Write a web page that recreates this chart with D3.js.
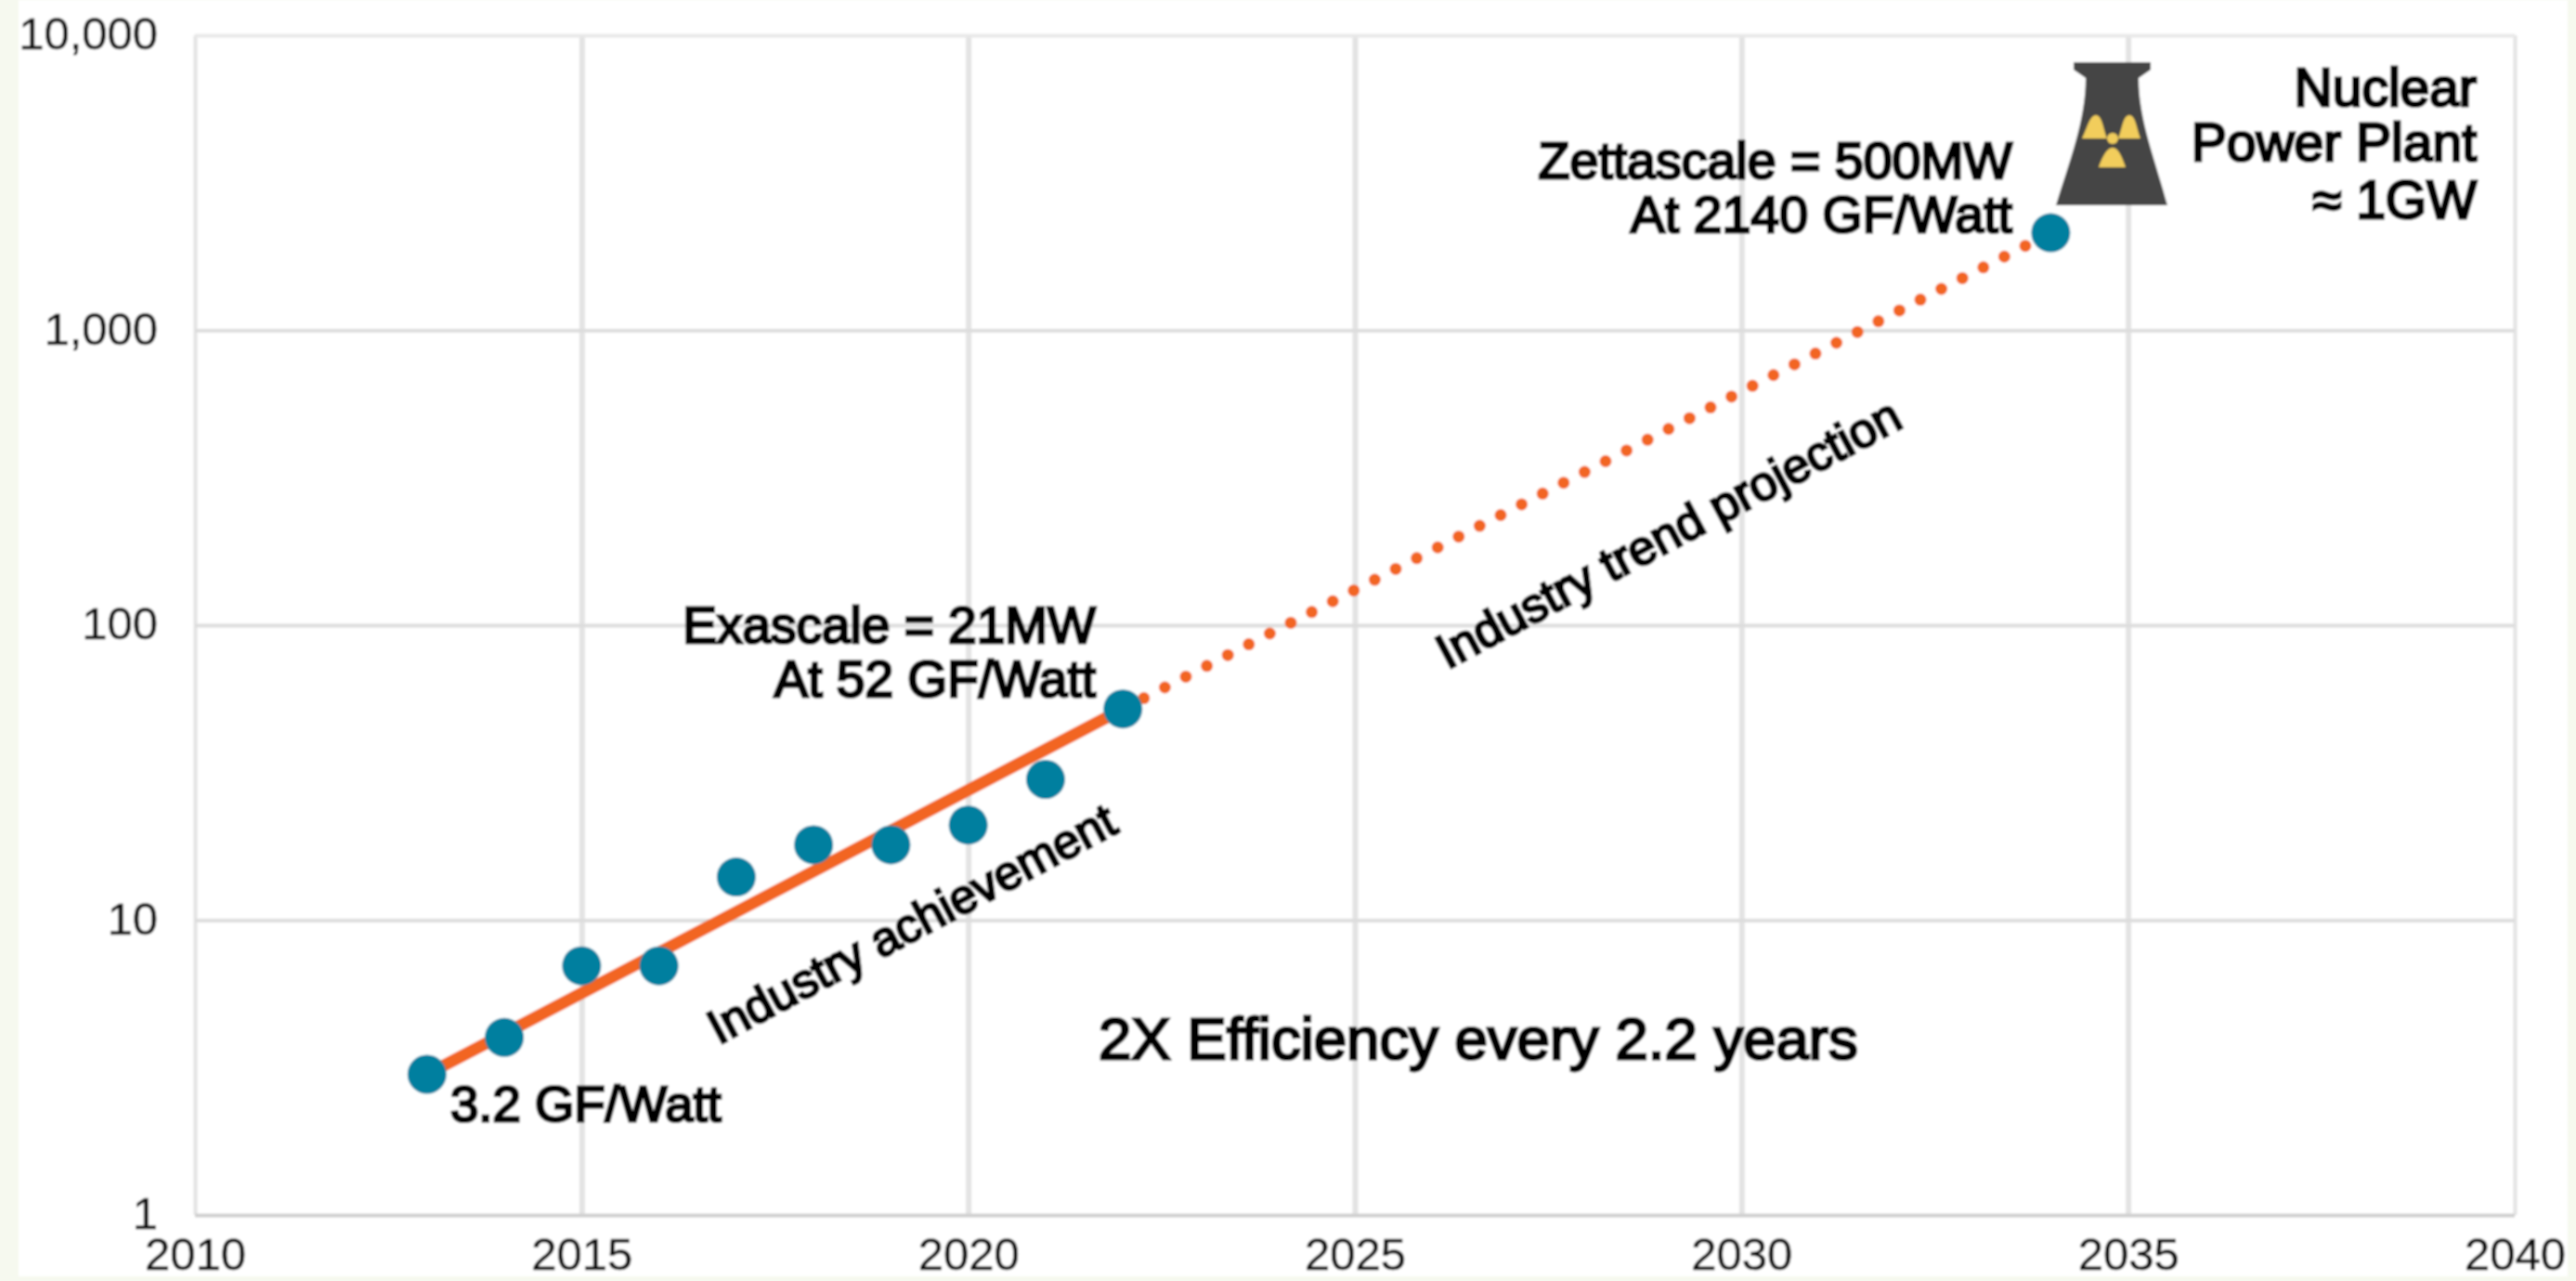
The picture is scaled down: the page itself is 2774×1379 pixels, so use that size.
<!DOCTYPE html>
<html><head><meta charset="utf-8">
<script src="https://cdn.jsdelivr.net/npm/d3@7"></script>
<style>
html,body{margin:0;padding:0;background:#f6f9ef;overflow:hidden}
svg{display:block}
text{font-family:"Liberation Sans",Arial,sans-serif}
</style></head><body>
<svg id="c" width="2774" height="1379"></svg>
<script>
const years=[2013,2014,2015,2016,2017,2018,2019,2020,2021,2022,2034];
const efficiency=[3,4,7,7,14,18,18,21,30,52,2140];
const achievedYears=[2013,2022];
const achievedValues=[3,52];
const projectedYears=[2022,2034];
const projectedValues=[52,2140];
const xTicks=[2010,2015,2020,2025,2030,2035,2040];
const yTicks=[1,10,100,1000,10000];

const svg=d3.select("#c");
svg.append("defs").append("filter").attr("id","soft")
  .attr("x",0).attr("y",0).attr("width","100%").attr("height","100%")
  .attr("filterUnits","userSpaceOnUse")
  .append("feGaussianBlur").attr("stdDeviation",1);
const root=svg.append("g").attr("filter","url(#soft)");
root.append("rect").attr("x",20).attr("y",0).attr("width",2745).attr("height",1374).attr("fill","#fff");

const L=210,R=2708,T=38,B=1308;
const x=d3.scaleLinear().domain([2010,2040]).range([L,R]);
const y=d3.scaleLog().domain([1,10000]).range([B,T]);
const GRID="#e3e3e3";

// axes with gridlines
const gx=root.append("g").attr("transform",`translate(0,${B})`)
  .call(d3.axisBottom(x).tickValues(xTicks).tickFormat(d3.format("d")).tickSize(-(B-T)));
const gy=root.append("g").attr("transform",`translate(${L},0)`)
  .call(d3.axisLeft(y).tickValues(yTicks).tickFormat(d3.format(",")).tickSize(B-T));
gy.selectAll(".tick line").attr("x1",0).attr("x2",R-L);
[gx,gy].forEach(g=>{
  g.select(".domain").remove();
  g.selectAll(".tick line").attr("stroke",GRID).attr("stroke-width",4);
  g.selectAll("text").attr("fill","#111").attr("stroke","#111").attr("stroke-width",0.5).attr("font-size",49);
});
gx.selectAll(".tick line").attr("stroke-width",d=>d===2010||d===2040?4:6);
gy.selectAll(".tick line").attr("stroke",d=>d===1?"#cfcfcf":(d===10000?"#e8e8e8":"#dddddd"));
gx.selectAll("text").attr("y",24).attr("dy","0.71em").attr("text-anchor","middle");
gy.selectAll("text").attr("x",-40).attr("dy","0.3em").attr("text-anchor","end");

// trend lines
const line=d3.line().x(d=>x(d[0])).y(d=>y(d[1]));
root.append("path").datum(projectedYears.map((v,i)=>[v,projectedValues[i]]))
  .attr("d",line).attr("fill","none").attr("stroke","#f26522").attr("stroke-width",13)
  .attr("stroke-linecap","round").attr("stroke-dasharray","0 25.4");
root.append("path").datum(achievedYears.map((v,i)=>[v,achievedValues[i]]))
  .attr("d",line).attr("fill","none").attr("stroke","#f26522").attr("stroke-width",13);

// points
root.append("g").selectAll("circle").data(years).join("circle")
  .attr("cx",d=>x(d)).attr("cy",(d,i)=>y(efficiency[i])).attr("r",21).attr("fill","#007f9f");

// cooling tower icon
const icon=root.append("g");
icon.append("path").attr("d","M2233,67 L2316,67 L2316,75 L2303,84 C2303,130 2322,175 2334,221 L2214,221 C2228,175 2246,130 2246,84 L2233,75 Z").attr("fill","#454545");
const bells=["M2242,149 C2247,140 2250,124 2257,124 C2264,124 2265,140 2269,149 Z",
             "M2281,149 C2285,140 2286,124 2293,124 C2300,124 2301,140 2305,149 Z",
             "M2260,180 C2263,172 2268,159 2275,159 C2282,159 2286,172 2289,180 Z"];
icon.selectAll("path.b").data(bells).join("path").attr("class","b").attr("d",d=>d).attr("fill","#f2cd5c");
icon.append("circle").attr("cx",2275).attr("cy",149).attr("r",6).attr("fill","#f2cd5c");

// annotations
const notes=[
 {t:"Nuclear",x:2667,y:114,a:"end",s:57},
 {t:"Power Plant",x:2667,y:173,a:"end",s:57},
 {t:"≈ 1GW",x:2667,y:235,a:"end",s:57},
 {t:"Zettascale = 500MW",x:2167,y:192,a:"end",s:55.5},
 {t:"At 2140 GF/Watt",x:2167,y:250,a:"end",s:55.5},
 {t:"Exascale = 21MW",x:1180,y:692,a:"end",s:55},
 {t:"At 52 GF/Watt",x:1180,y:750,a:"end",s:55},
 {t:"3.2 GF/Watt",x:485,y:1207,a:"start",s:54.5},
 {t:"2X Efficiency every 2.2 years",x:1183,y:1140,a:"start",s:63.5},
 {t:"Industry achievement",x:990,y:1010,a:"middle",s:51.5,r:-28},
 {t:"Industry trend projection",x:1805,y:590,a:"middle",s:52,r:-28}
];
root.append("g").selectAll("text").data(notes).join("text")
  .attr("transform",d=>`translate(${d.x},${d.y})`+(d.r?` rotate(${d.r})`:""))
  .attr("text-anchor",d=>d.a).attr("font-size",d=>d.s)
  .attr("fill","#000").attr("stroke","#000").attr("stroke-width",3)
  .text(d=>d.t);
</script>
</body></html>
